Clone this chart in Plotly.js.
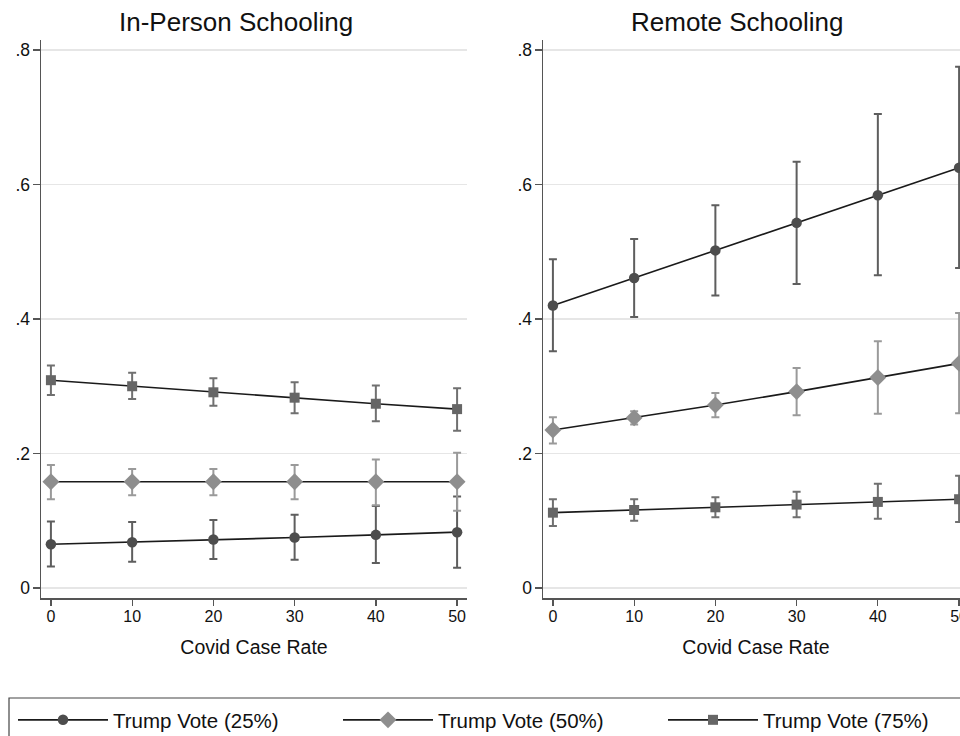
<!DOCTYPE html>
<html>
<head>
<meta charset="utf-8">
<script src="https://cdn.plot.ly/plotly-3.0.1.min.js"></script>
<style>
html,body{margin:0;padding:0;background:#fff;overflow:hidden;}
#wrap{width:960px;height:736px;overflow:hidden;position:relative;}
#chart{width:970px;height:780px;}
</style>
</head>
<body>
<div id="wrap"><div id="chart"></div></div>
<script>
// ---- data ----
var caseRate = [0, 10, 20, 30, 40, 50];
var xTickLabels = ['0', '10', '20', '30', '40', '50'];
var yTickVals = [0, 0.2, 0.4, 0.6, 0.8];
var yTickLabels = ['0', '.2', '.4', '.6', '.8'];
var panelTitles = ['In-Person Schooling', 'Remote Schooling'];
var seriesNames = ['Trump Vote (25%)', 'Trump Vote (50%)', 'Trump Vote (75%)'];
var xTitle = 'Covid Case Rate';

// In-person schooling
var inPerson25   = [0.065, 0.068, 0.072, 0.075, 0.079, 0.083];
var inPerson25Hi = [0.099, 0.098, 0.101, 0.109, 0.122, 0.136];
var inPerson25Lo = [0.032, 0.039, 0.043, 0.042, 0.037, 0.030];
var inPerson50   = [0.158, 0.158, 0.158, 0.158, 0.158, 0.158];
var inPerson50Hi = [0.183, 0.177, 0.177, 0.183, 0.191, 0.201];
var inPerson50Lo = [0.132, 0.138, 0.138, 0.132, 0.123, 0.115];
var inPerson75   = [0.309, 0.300, 0.291, 0.283, 0.274, 0.266];
var inPerson75Hi = [0.331, 0.320, 0.312, 0.306, 0.301, 0.297];
var inPerson75Lo = [0.287, 0.281, 0.271, 0.260, 0.248, 0.234];

// Remote schooling
var remote25   = [0.420, 0.461, 0.502, 0.543, 0.584, 0.625];
var remote25Hi = [0.489, 0.519, 0.569, 0.634, 0.705, 0.775];
var remote25Lo = [0.352, 0.403, 0.435, 0.452, 0.465, 0.476];
var remote50   = [0.235, 0.253, 0.272, 0.292, 0.313, 0.334];
var remote50Hi = [0.254, 0.263, 0.290, 0.327, 0.367, 0.409];
var remote50Lo = [0.215, 0.243, 0.254, 0.257, 0.259, 0.260];
var remote75   = [0.112, 0.116, 0.120, 0.124, 0.128, 0.132];
var remote75Hi = [0.132, 0.132, 0.135, 0.143, 0.155, 0.167];
var remote75Lo = [0.092, 0.100, 0.105, 0.105, 0.103, 0.098];

// ---- styling ----
var FONT = '"Liberation Sans", Arial, Helvetica, sans-serif';
var styles = [
  {symbol: 'circle',  size: 10.5, color: '#4d4d4d', err: '#5e5e5e'},
  {symbol: 'diamond', size: 13, color: '#8e8e8e', err: '#9a9a9a'},
  {symbol: 'square',  size: 10, color: '#666666', err: '#707070'}
];
var legendIds = ['legend', 'legend2', 'legend3'];
var legendLeftPx = [13, 338, 663];

function diff(a, b) { return a.map(function (v, i) { return v - b[i]; }); }

function makeTrace(y, hi, lo, k, xa, ya, showLeg) {
  var s = styles[k];
  return {
    type: 'scatter', mode: 'lines+markers',
    x: caseRate, y: y, xaxis: xa, yaxis: ya,
    name: seriesNames[k], legend: legendIds[k], legendgroup: 'g' + k, showlegend: showLeg,
    line: {color: '#1a1a1a', width: 1.6},
    marker: {symbol: s.symbol, size: s.size, color: s.color, line: {width: 0}},
    error_y: {type: 'data', symmetric: false, array: diff(hi, y), arrayminus: diff(y, lo),
              color: s.err, thickness: 2, width: 4}
  };
}

var traces = [
  makeTrace(inPerson25, inPerson25Hi, inPerson25Lo, 0, 'x', 'y', true),
  makeTrace(inPerson50, inPerson50Hi, inPerson50Lo, 1, 'x', 'y', true),
  makeTrace(inPerson75, inPerson75Hi, inPerson75Lo, 2, 'x', 'y', true),
  makeTrace(remote25, remote25Hi, remote25Lo, 0, 'x2', 'y2', false),
  makeTrace(remote50, remote50Hi, remote50Lo, 1, 'x2', 'y2', false),
  makeTrace(remote75, remote75Hi, remote75Lo, 2, 'x2', 'y2', false)
];

var W = 970, H = 780, T = 40, PLOT_BOTTOM = 598, B = H - PLOT_BOTTOM;
var PH = H - T - B;
function px(x) { return x / W; }
function py(y) { return (PLOT_BOTTOM - y) / PH; }

function xAxis(domain, anchor) {
  return {
    domain: domain, anchor: anchor, range: [-1.22, 51.22],
    tickvals: caseRate, ticktext: xTickLabels, ticks: 'outside', ticklen: 6, tickwidth: 1.3,
    tickcolor: '#555', showline: true, linecolor: '#555', linewidth: 1.5, ticklabelstandoff: -3,
    showgrid: false, zeroline: false, tickfont: {family: FONT, size: 16, color: '#111'},
    title: {text: xTitle, font: {family: FONT, size: 19.5, color: '#111'}, standoff: 16},
    fixedrange: true
  };
}
function yAxis(anchor) {
  return {
    domain: [0, 1], anchor: anchor, range: [-0.0149, 0.8149],
    tickvals: yTickVals, ticktext: yTickLabels, ticks: 'outside', ticklen: 7, tickwidth: 1.3,
    tickcolor: '#555', showline: true, linecolor: '#555', linewidth: 1.5, ticklabelstandoff: -1,
    showgrid: true, gridcolor: '#e6e6e6', gridwidth: 1.3, zeroline: false,
    tickfont: {family: FONT, size: 17.5, color: '#111'}, fixedrange: true
  };
}

function legendAt(k) {
  return {
    orientation: 'h', x: px(legendLeftPx[k]), xanchor: 'left', y: py(720), yanchor: 'middle',
    font: {family: FONT, size: 20.5, color: '#111'}, bgcolor: 'rgba(0,0,0,0)',
    borderwidth: 0, itemwidth: 90, itemclick: false, itemdoubleclick: false
  };
}

var layout = {
  width: W, height: H,
  margin: {l: 0, r: 0, t: T, b: B, pad: 0},
  paper_bgcolor: '#fff', plot_bgcolor: '#fff',
  font: {family: FONT, color: '#111'},
  xaxis: xAxis([px(41), px(467)], 'y'),
  yaxis: yAxis('x'),
  xaxis2: xAxis([px(543), px(969)], 'y2'),
  yaxis2: yAxis('x2'),
  showlegend: true,
  legend: legendAt(0),
  legend2: legendAt(1),
  legend3: legendAt(2),
  annotations: [
    {text: panelTitles[0], xref: 'paper', yref: 'paper', x: px(236), y: py(22),
     xanchor: 'center', yanchor: 'middle', showarrow: false,
     font: {family: FONT, size: 26, color: '#111'}},
    {text: panelTitles[1], xref: 'paper', yref: 'paper', x: px(737), y: py(22),
     xanchor: 'center', yanchor: 'middle', showarrow: false,
     font: {family: FONT, size: 26, color: '#111'}}
  ],
  shapes: [
    {type: 'rect', xref: 'paper', yref: 'paper', x0: px(9), x1: px(990), y0: py(698), y1: py(775),
     line: {color: '#444', width: 1.2}, fillcolor: 'rgba(0,0,0,0)', layer: 'below'}
  ]
};

Plotly.newPlot('chart', traces, layout, {displayModeBar: false, staticPlot: true});
</script>
</body>
</html>
